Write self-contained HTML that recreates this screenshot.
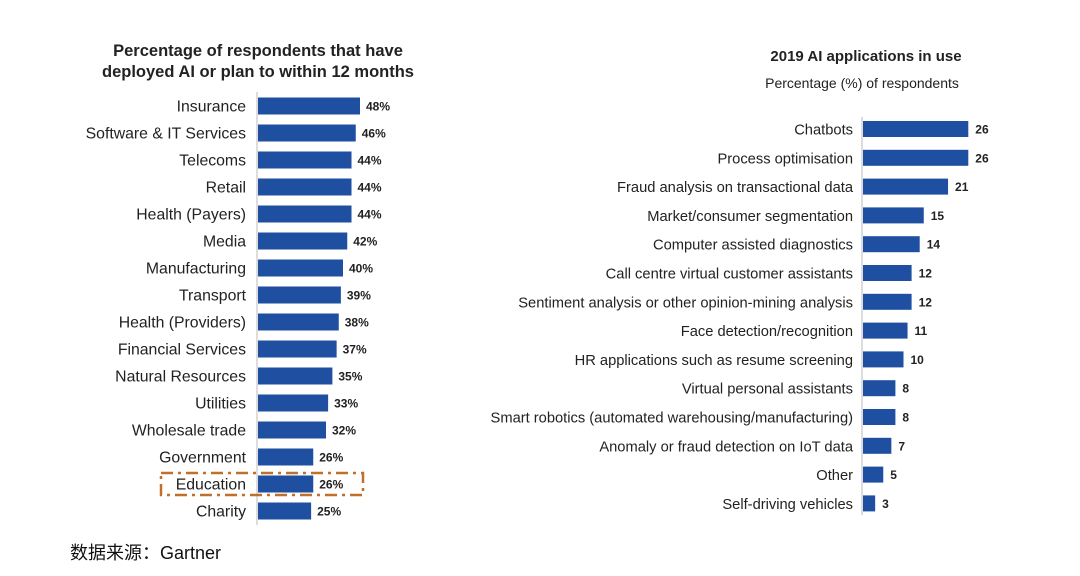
<!DOCTYPE html>
<html><head><meta charset="utf-8">
<style>
body{margin:0;background:#fff;width:1080px;height:576px;overflow:hidden}
svg{display:block}
</style></head><body>
<svg id="c" width="1080" height="576" xmlns="http://www.w3.org/2000/svg">
<text x="258" y="56" text-anchor="middle" font-family="Liberation Sans, sans-serif" font-weight="bold" font-size="16.5" fill="#222">Percentage of respondents that have</text>
<text x="258" y="77" text-anchor="middle" font-family="Liberation Sans, sans-serif" font-weight="bold" font-size="16.5" fill="#222">deployed AI or plan to within 12 months</text>
<text x="866" y="61" text-anchor="middle" font-family="Liberation Sans, sans-serif" font-weight="bold" font-size="15" fill="#222">2019 AI applications in use</text>
<text x="862" y="88" text-anchor="middle" font-family="Liberation Sans, sans-serif" font-size="14" fill="#222">Percentage (%) of respondents</text>
<text x="70" y="559" font-family="Liberation Sans, Noto Sans CJK SC, sans-serif" font-size="18" fill="#111">数据来源：Gartner</text>
<line x1="257" y1="92" x2="257" y2="525" stroke="#bbb" stroke-width="1"/>
<line x1="862" y1="117" x2="862" y2="515" stroke="#bbb" stroke-width="1"/>
<rect x="161" y="473" width="202" height="22" fill="none" stroke="#c0702a" stroke-width="2.5" stroke-dasharray="12,5,3,5"/>
<g id="left"></g><g id="right"></g>
</svg>
<script>
const leftCats=["Insurance","Software & IT Services","Telecoms","Retail","Health (Payers)","Media","Manufacturing","Transport","Health (Providers)","Financial Services","Natural Resources","Utilities","Wholesale trade","Government","Education","Charity"];
const leftVals=[48,46,44,44,44,42,40,39,38,37,35,33,32,26,26,25];
const rightCats=["Chatbots","Process optimisation","Fraud analysis on transactional data","Market/consumer segmentation","Computer assisted diagnostics","Call centre virtual customer assistants","Sentiment analysis or other opinion-mining analysis","Face detection/recognition","HR applications such as resume screening","Virtual personal assistants","Smart robotics (automated warehousing/manufacturing)","Anomaly or fraud detection on IoT data","Other","Self-driving vehicles"];
const rightVals=[26,26,21,15,14,12,12,11,10,8,8,7,5,3];
const NS="http://www.w3.org/2000/svg";
function mk(t,a,p){const e=document.createElementNS(NS,t);for(const k in a)e.setAttribute(k,a[k]);p.appendChild(e);return e;}
const lx=v=>258+v*2.125, ly=i=>106+i*27;
const rx=v=>863+v*4.05, ry=i=>129+i*28.8;
const L=document.getElementById('left'), R=document.getElementById('right');
leftCats.forEach((c,i)=>{
 const r=mk('rect',{x:258,y:ly(i)-8.5,width:lx(leftVals[i])-258,height:17,fill:'#1f4fa0'},L);
 
 
 const t=mk('text',{x:246,y:ly(i)+5.5,'text-anchor':'end','font-family':'Liberation Sans, sans-serif','font-size':15.8,fill:'#222'},L);t.textContent=c;
 
 
 const v=mk('text',{x:lx(leftVals[i])+6,y:ly(i)+4.5,'font-family':'Liberation Sans, sans-serif','font-weight':'bold','font-size':12,fill:'#222'},L);v.textContent=leftVals[i]+'%';
 
 
});
rightCats.forEach((c,i)=>{
 const r=mk('rect',{x:863,y:ry(i)-8,width:rx(rightVals[i])-863,height:16,fill:'#1f4fa0'},R);
 
 
 const t=mk('text',{x:853,y:ry(i)+5.5,'text-anchor':'end','font-family':'Liberation Sans, sans-serif','font-size':14.7,fill:'#222'},R);t.textContent=c;
 
 
 const v=mk('text',{x:rx(rightVals[i])+7,y:ry(i)+4.5,'font-family':'Liberation Sans, sans-serif','font-weight':'bold','font-size':12,fill:'#222'},R);v.textContent=rightVals[i];
 
 
});
</script>
</body></html>
